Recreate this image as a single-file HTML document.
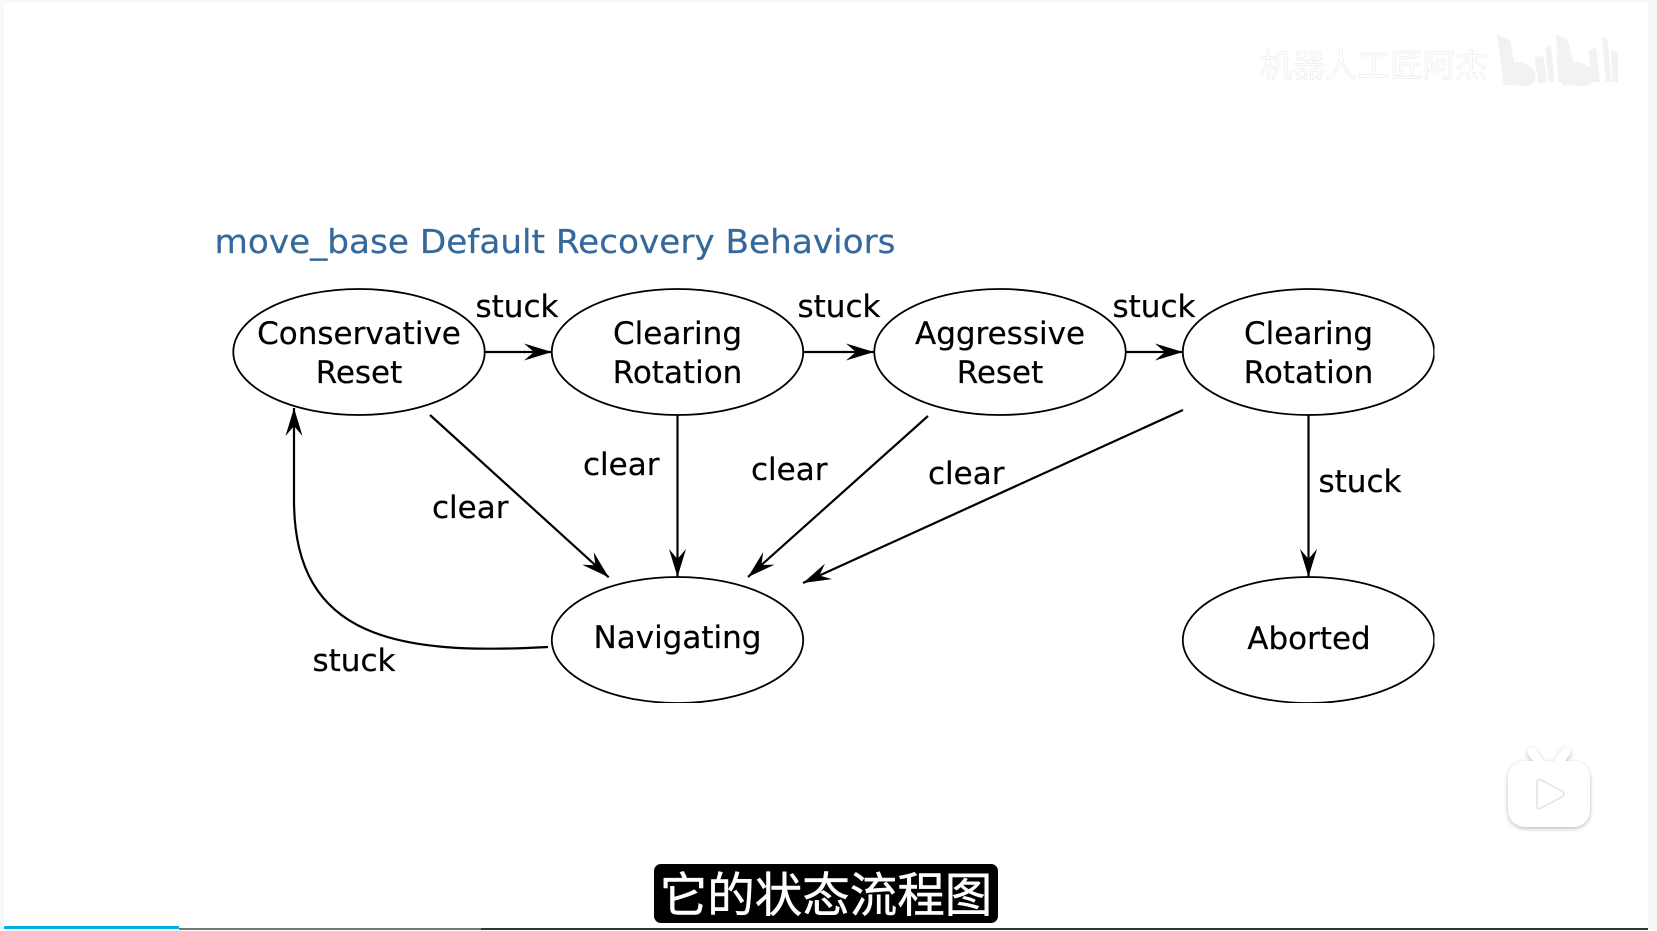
<!DOCTYPE html>
<html><head><meta charset="utf-8">
<style>
html,body{margin:0;padding:0;width:1657px;height:931px;overflow:hidden;background:#fff}
#l{position:absolute;left:0;top:0;width:4px;height:929px;background:#f7f8f8}
#r{position:absolute;left:1648px;top:0;width:9px;height:929px;background:#f7f8f8}
#t{position:absolute;left:0;top:0;width:1657px;height:3px;background:#f7f8f8}
svg{position:absolute;left:0;top:0}
text{font-family:"DejaVu Sans",sans-serif;fill:#000;font-size:31px;stroke:#000;stroke-width:.2;text-rendering:geometricPrecision}
.m{text-anchor:middle}
#sub{position:absolute;left:654px;top:864px;width:344px;height:59px;background:#000;border-radius:7px;color:#fff;font:47.5px/56px "WenQuanYi Zen Hei","Noto Sans CJK SC",sans-serif;text-align:center;white-space:nowrap;-webkit-text-stroke:.5px #fff}
#bar1{position:absolute;left:4px;top:926px;width:175px;height:3px;background:#00aeec}
#bar2{position:absolute;left:179px;top:928px;width:302px;height:1.5px;background:#777}
#bar3{position:absolute;left:481px;top:928px;width:1167px;height:1.5px;background:#333}
</style></head><body>
<div id="t"></div><div id="l"></div><div id="r"></div>
<svg width="1657" height="931" viewBox="0 0 1657 931">
<defs>
<marker id="a" markerUnits="userSpaceOnUse" markerWidth="34" markerHeight="24" refX="28" refY="10" orient="auto">
<path d="M0,1.5 L28,10 L0,18.5 L10,10 Z" fill="#000"/>
</marker>
<filter id="sh" x="-30%" y="-30%" width="160%" height="160%"><feDropShadow dx="0" dy="1.5" stdDeviation="2" flood-color="#000" flood-opacity=".28"/></filter>
<filter id="b" x="0" y="0" width="100%" height="100%"><feGaussianBlur stdDeviation=".35"/></filter>
</defs>

<g filter="url(#b)">
<text x="214.5" y="253" style="fill:#34689b;stroke:#34689b;font-size:33px" textLength="681" lengthAdjust="spacingAndGlyphs">move_base Default Recovery Behaviors</text>

<g fill="#fff" stroke="#000" stroke-width="1.8">
<ellipse cx="359" cy="352" rx="125.7" ry="63"/>
<ellipse cx="677.5" cy="352" rx="125.7" ry="63"/>
<ellipse cx="1000" cy="352" rx="125.7" ry="63"/>
<ellipse cx="1308.5" cy="352" rx="125.7" ry="63"/>
<ellipse cx="677.5" cy="640" rx="125.7" ry="63"/>
<ellipse cx="1308.5" cy="640" rx="125.7" ry="63"/>
</g>

<g fill="none" stroke="#000" stroke-width="2.2" marker-end="url(#a)">
<path d="M485,352 L552,352"/>
<path d="M804,352 L874,352"/>
<path d="M1126,352 L1183,352"/>
<path d="M430,415 L608.7,577.3"/>
<path d="M677.5,415 L677.5,577"/>
<path d="M928,416 L748,577"/>
<path d="M1183,410 L803,583"/>
<path d="M1308.5,415 L1308.5,577"/>
<path d="M548,647 C400,655 294,640 294,500 L294,408"/>
</g>

<text class="m" x="359" y="344">Conservative</text>
<text class="m" x="359" y="383">Reset</text>
<text class="m" x="677.5" y="344">Clearing</text>
<text class="m" x="677.5" y="383">Rotation</text>
<text class="m" x="1000" y="344">Aggressive</text>
<text class="m" x="1000" y="383">Reset</text>
<text class="m" x="1308.5" y="344">Clearing</text>
<text class="m" x="1308.5" y="383">Rotation</text>
<text class="m" x="677.5" y="648">Navigating</text>
<text class="m" x="1309" y="649">Aborted</text>

<text x="475.5" y="317">stuck</text>
<text x="797.5" y="317">stuck</text>
<text x="1112.5" y="317">stuck</text>
<text x="1318.5" y="492">stuck</text>
<text x="312.5" y="671">stuck</text>
<text x="432" y="518">clear</text>
<text x="583" y="475">clear</text>
<text x="751" y="480">clear</text>
<text x="928" y="484">clear</text>
</g>

<text x="1260" y="77" style="font-family:'WenQuanYi Zen Hei','Noto Sans CJK SC',sans-serif;font-size:32.5px;fill:#fff;stroke:#ececec;stroke-width:.7">机器人工匠阿杰</text>
<g fill="#f2f2f2" transform="translate(1497 0) scale(.945 1) translate(-1497 0)">
<path d="M1497,34 L1511,40 L1515,62 Q1530,62 1537,72 Q1540,84 1528,86 L1504,85 Z"/>
<path d="M1537,58 L1546,55 L1550,82 L1541,84 Z M1548,48 L1554,45 L1558,82 L1552,82 Z M1560,52 L1568,52 L1568,82 L1562,82 Z"/>
<path d="M1559,34 L1572,40 L1578,62 Q1592,62 1600,72 Q1602,84 1590,86 L1566,85 Z"/>
<path d="M1594,50 L1602,48 L1606,82 L1598,82 Z M1608,36 L1614,40 L1618,82 L1612,82 Z M1618,50 L1625,52 L1625,82 L1619,82 Z"/>
</g>

<g filter="url(#sh)" fill="#fff">
<path d="M1532,752 L1540,763 M1566,752 L1558,763" stroke="#fff" stroke-width="9" stroke-linecap="round"/>
<rect x="1508" y="761" width="82" height="66" rx="17"/>
</g>
<path d="M1537,782 Q1537,778 1541,780 L1562,791 Q1566,794 1562,797 L1541,808 Q1537,810 1537,806 Z" fill="#fff" stroke="#e2e2e2" stroke-width="1.5" stroke-linejoin="round"/>
</svg>
<div id="sub">它的状态流程图</div>
<div id="bar2"></div><div id="bar3"></div><div id="bar1"></div>
</body></html>
